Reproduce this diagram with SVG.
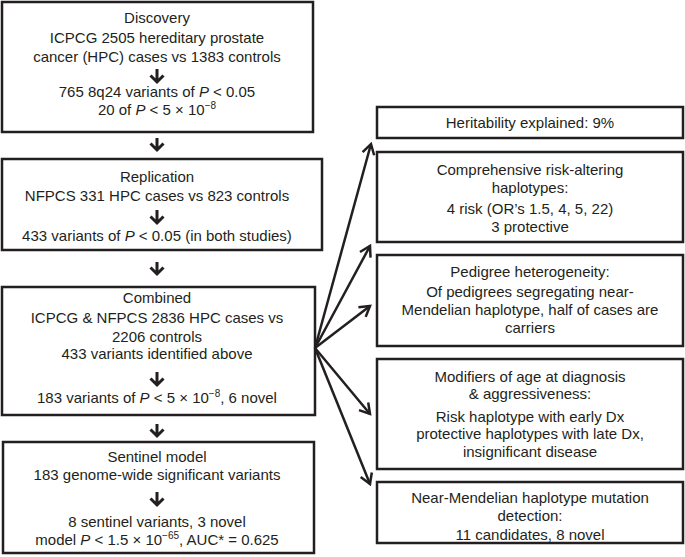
<svg xmlns="http://www.w3.org/2000/svg" width="685" height="557" viewBox="0 0 685 557">
<style>
.box{fill:#fff;stroke:#231f20;stroke-width:2.5}
text{font-family:"Liberation Sans",Arial,sans-serif;font-size:15px;fill:#231f20;text-anchor:middle}
.i{font-style:italic}
.sup{font-size:10px}
.ar{fill:none;stroke:#231f20;stroke-width:3;stroke-linejoin:miter}
.fan{fill:none;stroke:#231f20;stroke-width:2.5}
</style>
<defs>
<marker id="head" markerUnits="userSpaceOnUse" markerWidth="16" markerHeight="16" viewBox="-12 -8 14 16" refX="0" refY="0" orient="auto">
<path d="M-10,-6 L0,0 L-10,6" fill="none" stroke="#231f20" stroke-width="2.5"/>
</marker>
</defs>
<rect width="685" height="557" fill="#fff"/>

<g id="discovery">
<rect class="box" x="2" y="2" width="311" height="130"/>
<text x="157" y="23">Discovery</text>
<text x="157" y="43">ICPCG 2505 hereditary prostate</text>
<text x="157" y="62">cancer (HPC) cases vs 1383 controls</text>
<path class="ar" d="M157,69 V82 M150.5,75.5 L157,82 L163.5,75.5"/>
<text x="157" y="97">765 8q24 variants of <tspan class="i">P</tspan> &lt; 0.05</text>
<text x="157" y="115">20 of <tspan class="i">P</tspan> &lt; 5 × 10<tspan class="sup" dy="-6">−8</tspan></text>
</g>

<g id="replication">
<rect class="box" x="2" y="159" width="320" height="91"/>
<text x="157" y="182">Replication</text>
<text x="157" y="201">NFPCS 331 HPC cases vs 823 controls</text>
<path class="ar" d="M157,210 V223 M150.5,216.5 L157,223 L163.5,216.5"/>
<text x="157" y="241">433 variants of <tspan class="i">P</tspan> &lt; 0.05 (in both studies)</text>
</g>

<g id="combined">
<rect class="box" x="2" y="287" width="313" height="128"/>
<text x="157" y="303">Combined</text>
<text x="157" y="323">ICPCG &amp; NFPCS 2836 HPC cases vs</text>
<text x="157" y="342">2206 controls</text>
<text x="157" y="359">433 variants identified above</text>
<path class="ar" d="M157,372 V385 M150.5,378.5 L157,385 L163.5,378.5"/>
<text x="157" y="403">183 variants of <tspan class="i">P</tspan> &lt; 5 × 10<tspan class="sup" dy="-6">−8</tspan><tspan dy="6">, 6 novel</tspan></text>
</g>

<g id="sentinel">
<rect class="box" x="3" y="442" width="311" height="111"/>
<text x="157" y="462">Sentinel model</text>
<text x="157" y="480">183 genome-wide significant variants</text>
<path class="ar" d="M157,492 V505 M150.5,498.5 L157,505 L163.5,498.5"/>
<text x="157" y="527">8 sentinel variants, 3 novel</text>
<text x="157" y="545">model <tspan class="i">P</tspan> &lt; 1.5 × 10<tspan class="sup" dy="-6">−65</tspan><tspan dy="6">, AUC* = 0.625</tspan></text>
</g>

<g id="heritability">
<rect class="box" x="377" y="107" width="306" height="31"/>
<text x="530" y="128">Heritability explained: 9%</text>
</g>

<g id="comprehensive">
<rect class="box" x="377" y="152" width="306" height="90"/>
<text x="530" y="175">Comprehensive risk-altering</text>
<text x="530" y="193">haplotypes:</text>
<text x="530" y="214">4 risk (OR’s 1.5, 4, 5, 22)</text>
<text x="530" y="232">3 protective</text>
</g>

<g id="pedigree">
<rect class="box" x="377" y="255" width="306" height="91"/>
<text x="530" y="277">Pedigree heterogeneity:</text>
<text x="530" y="297">Of pedigrees segregating near-</text>
<text x="530" y="315">Mendelian haplotype, half of cases are</text>
<text x="530" y="333">carriers</text>
</g>

<g id="modifiers">
<rect class="box" x="377" y="359" width="306" height="110"/>
<text x="530" y="382">Modifiers of age at diagnosis</text>
<text x="530" y="399">&amp; aggressiveness:</text>
<text x="530" y="422">Risk haplotype with early Dx</text>
<text x="530" y="439">protective haplotypes with late Dx,</text>
<text x="530" y="457">insignificant disease</text>
</g>

<g id="nearmendelian">
<rect class="box" x="377" y="482" width="306" height="61"/>
<text x="530" y="503">Near-Mendelian haplotype mutation</text>
<text x="530" y="521">detection:</text>
<text x="530" y="540">11 candidates, 8 novel</text>
</g>

<g id="connectors">
<path class="ar" d="M157,138 V150 M150.5,143.5 L157,150 L163.5,143.5"/>
<path class="ar" d="M157,262 V274 M150.5,267.5 L157,274 L163.5,267.5"/>
<path class="ar" d="M157,424 V436 M150.5,429.5 L157,436 L163.5,429.5"/>
<line class="fan" x1="315" y1="348" x2="371" y2="144" marker-end="url(#head)"/>
<line class="fan" x1="315" y1="348" x2="370" y2="246" marker-end="url(#head)"/>
<line class="fan" x1="315" y1="348" x2="370" y2="306" marker-end="url(#head)"/>
<line class="fan" x1="315" y1="348" x2="370" y2="414" marker-end="url(#head)"/>
<line class="fan" x1="315" y1="348" x2="370" y2="484" marker-end="url(#head)"/>
</g>
</svg>
